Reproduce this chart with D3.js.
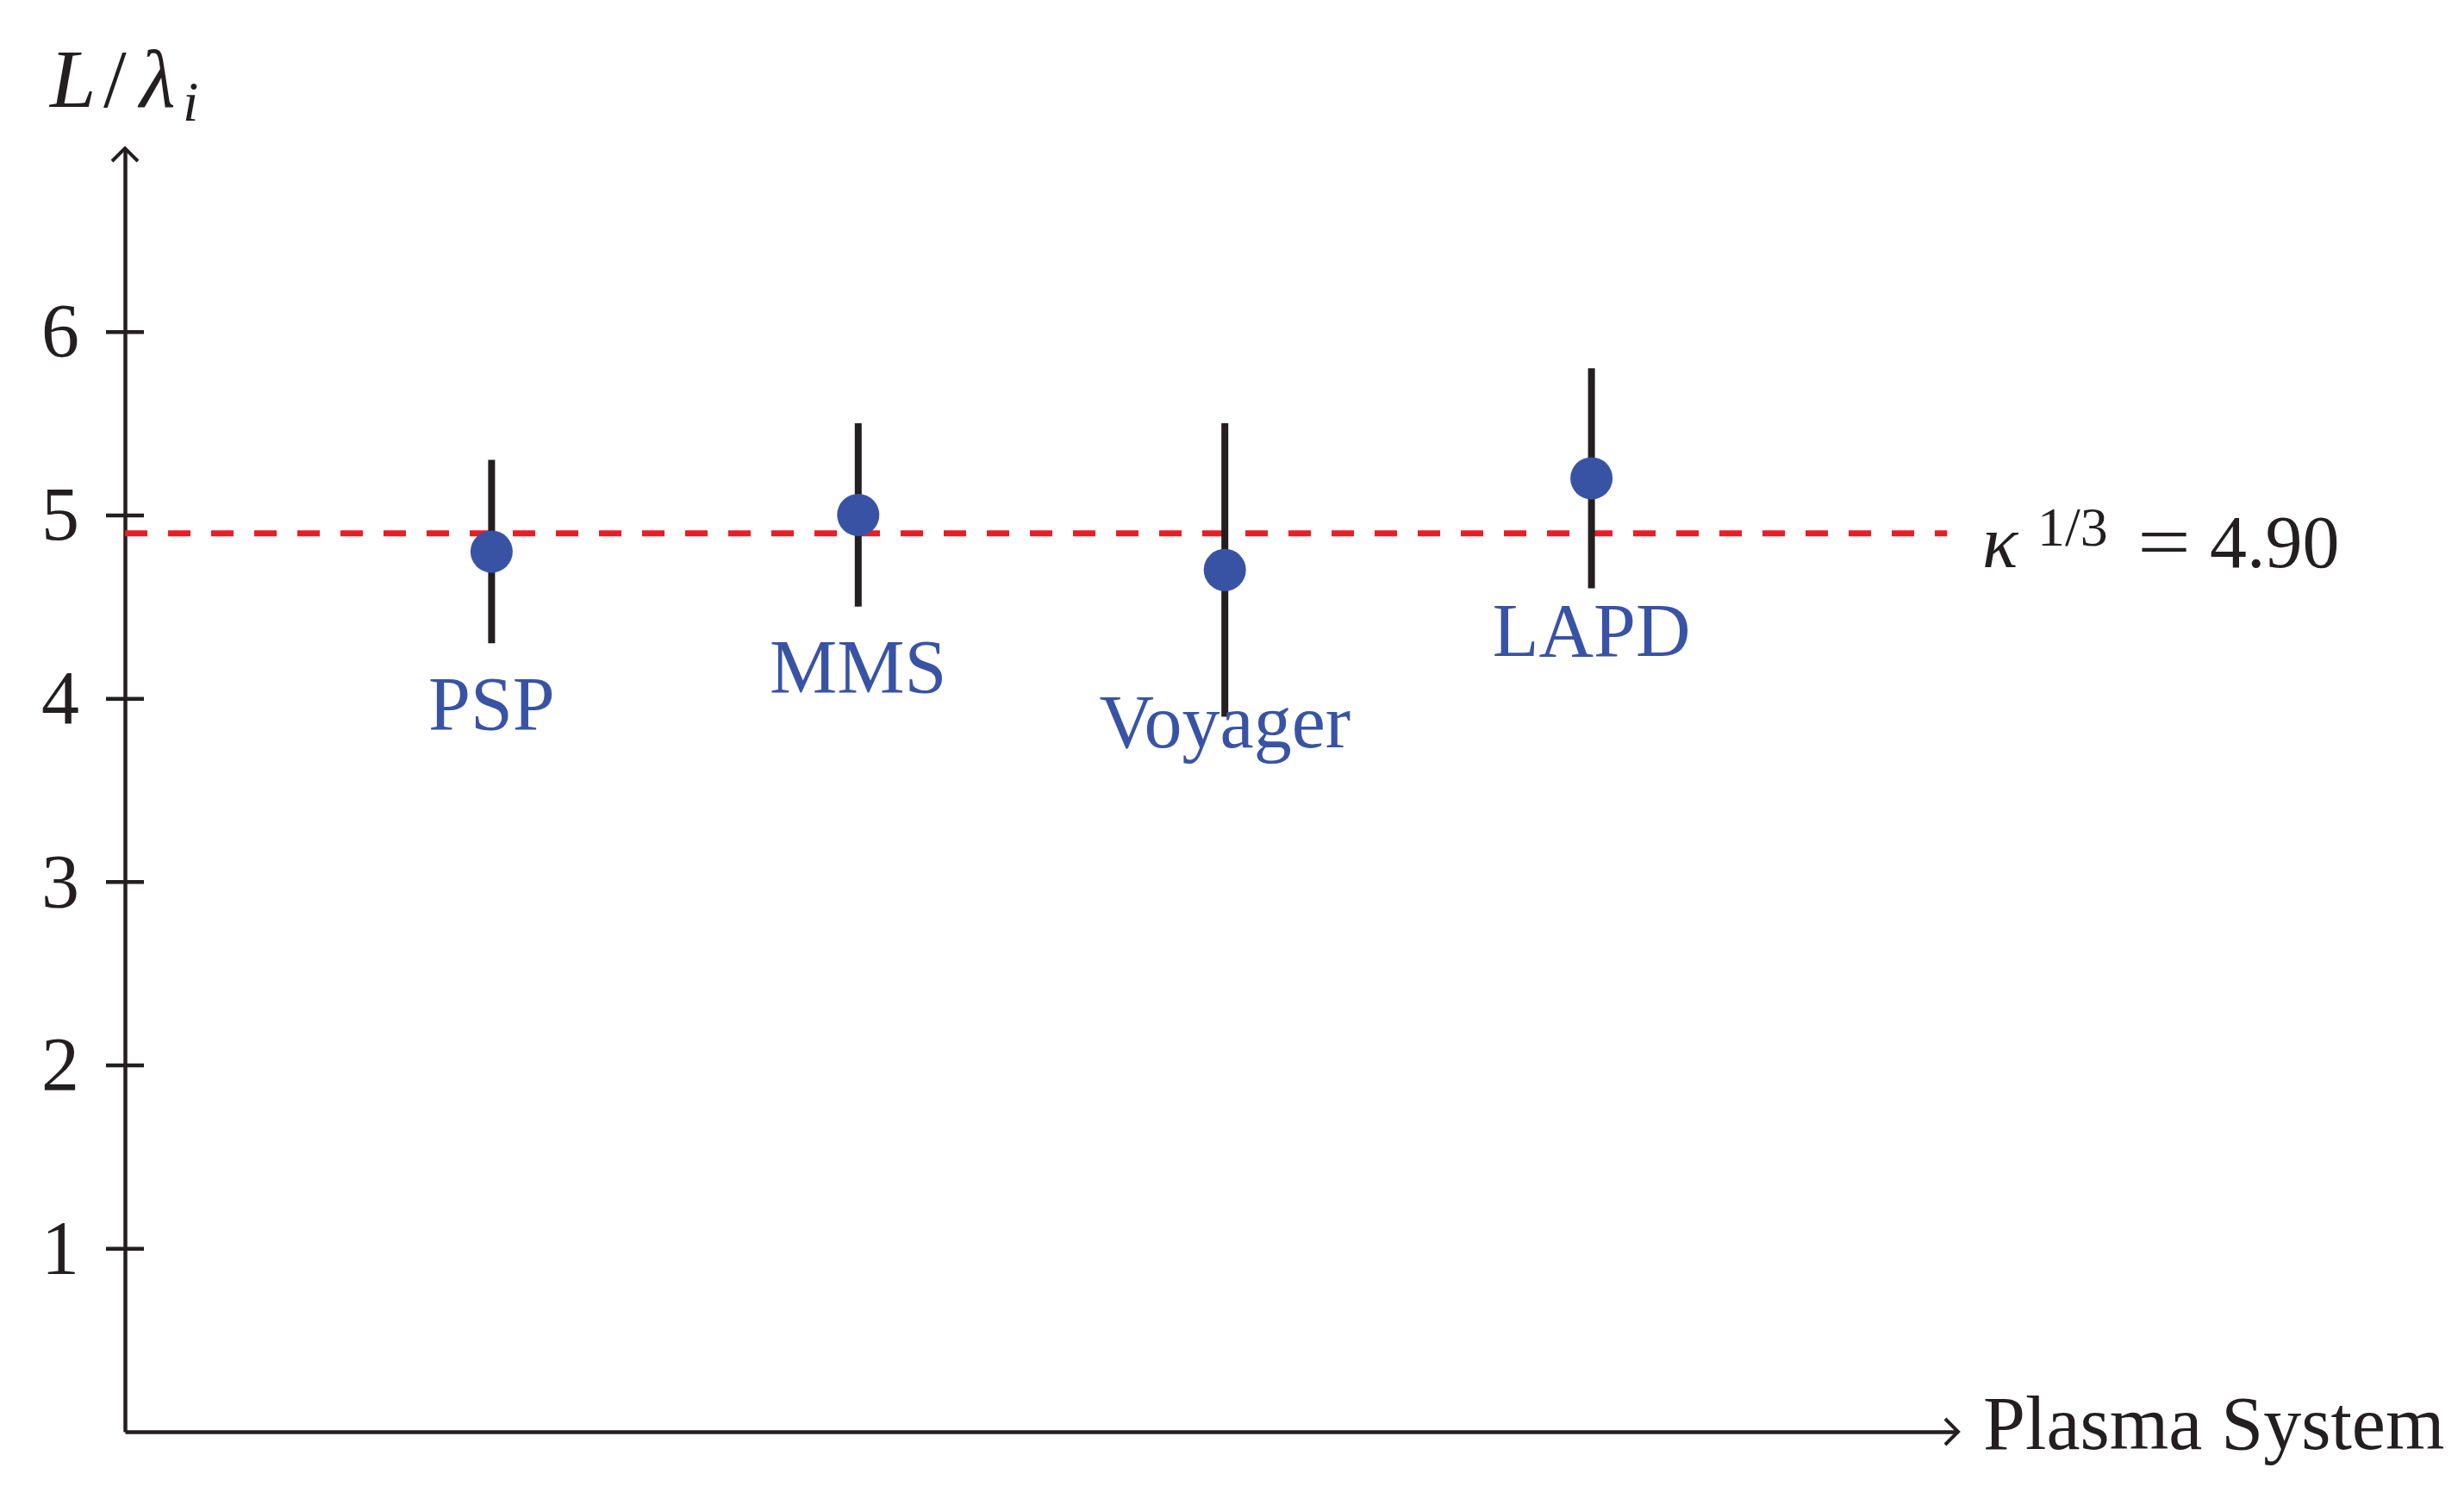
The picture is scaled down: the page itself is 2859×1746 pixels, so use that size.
<!DOCTYPE html>
<html lang="en">
<head>
    <meta charset="utf-8">
    <title>L / lambda_i by plasma system</title>
    <script src="https://cdn.jsdelivr.net/npm/d3@7/dist/d3.min.js"></script>
    <style type="text/css">
        body { margin: 0; background: #fff; }
        svg text { font-family: "Liberation Serif", "Times New Roman", serif; fill: #231f20; }
    </style>
</head>
<body>
    <svg width="2859" height="1746"></svg>
    <script>

        // data
        var systems  = ["PSP", "MMS", "Voyager", "LAPD"];
        var xPos     = [1, 2, 3, 4];
        var ratio    = [4.8, 5.0, 4.7, 5.2];
        var errLow   = [4.3, 4.5, 3.9, 4.6];
        var errHigh  = [5.3, 5.5, 5.5, 5.8];
        var yTicks   = [1, 2, 3, 4, 5, 6];
        var kappaRef = 4.90;

        var ink = "#231f20", blue = "#3953a4", red = "#ed1c24";

        var svg = d3.select("svg");

        var xScale = d3.scaleLinear().domain([0, 5]).range([145, 2272]),
            yScale = d3.scaleLinear().domain([0, 7]).range([1661, 172]);

        var rows = systems.map(function(s, i) {
            return { name: s, x: xPos[i], v: ratio[i], lo: errLow[i], hi: errHigh[i] };
        });

        // y axis, ticks crossing the line
        var gy = svg.append("g")
            .attr("transform", "translate(" + xScale(0) + ",0)")
            .call(d3.axisLeft(yScale).tickValues(yTicks).tickFormat(d3.format("d"))
                    .tickSizeInner(22).tickSizeOuter(0).tickPadding(31));
        gy.select(".domain").attr("stroke", ink).attr("stroke-width", 4.5);
        gy.selectAll(".tick line").attr("x1", -22).attr("x2", 22).attr("stroke", ink).attr("stroke-width", 4.5);
        gy.selectAll(".tick text").attr("font-size", 88).attr("fill", ink)
          .attr("font-family", "Liberation Serif, serif");

        // x axis, no ticks
        var gx = svg.append("g")
            .attr("transform", "translate(0," + yScale(0) + ")")
            .call(d3.axisBottom(xScale).tickValues([]).tickSizeOuter(0));
        gx.select(".domain").attr("stroke", ink).attr("stroke-width", 4.5);

        // arrow heads
        var tipY = yScale(7), ax = xScale(0);
        svg.append("path")
            .attr("d", "M" + (ax - 15) + "," + (tipY + 15) + " Q" + (ax - 6) + "," + (tipY + 6) + " " + ax + "," + tipY +
                       " Q" + (ax + 6) + "," + (tipY + 6) + " " + (ax + 15) + "," + (tipY + 15))
            .attr("fill", "none").attr("stroke", ink).attr("stroke-width", 4);
        var tipX = xScale(5), ay = yScale(0);
        svg.append("path")
            .attr("d", "M" + (tipX - 15) + "," + (ay - 15) + " Q" + (tipX - 6) + "," + (ay - 6) + " " + tipX + "," + ay +
                       " Q" + (tipX - 6) + "," + (ay + 6) + " " + (tipX - 15) + "," + (ay + 15))
            .attr("fill", "none").attr("stroke", ink).attr("stroke-width", 4);

        // reference line
        svg.append("line")
            .attr("x1", xScale(0)).attr("x2", xScale(4.97))
            .attr("y1", yScale(kappaRef)).attr("y2", yScale(kappaRef))
            .attr("stroke", red).attr("stroke-width", 7).attr("stroke-dasharray", "26,24");

        // error bars
        svg.selectAll(".err").data(rows).enter().append("line")
            .attr("class", "err")
            .attr("x1", function(d) { return xScale(d.x); })
            .attr("x2", function(d) { return xScale(d.x); })
            .attr("y1", function(d) { return yScale(d.lo); })
            .attr("y2", function(d) { return yScale(d.hi); })
            .attr("stroke", ink).attr("stroke-width", 8);

        // points
        svg.selectAll(".pt").data(rows).enter().append("circle")
            .attr("class", "pt")
            .attr("cx", function(d) { return xScale(d.x); })
            .attr("cy", function(d) { return yScale(d.v); })
            .attr("r", 24.5)
            .attr("fill", blue);

        // system names under each point
        svg.selectAll(".lbl").data(rows).enter().append("text")
            .attr("class", "lbl")
            .attr("x", function(d) { return xScale(d.x); })
            .attr("y", function(d) { return yScale(d.v) + 206; })
            .attr("text-anchor", "middle")
            .attr("font-size", 88)
            .style("fill", blue)
            .text(function(d) { return d.name; });

        // y label  L / lambda_i
        var yl = svg.append("text").attr("x", 58).attr("y", 124).attr("font-size", 96);
        yl.append("tspan").attr("font-style", "italic").text("L");
        yl.append("tspan").attr("x", 120).text("/");
        yl.append("tspan").attr("x", 162).attr("font-style", "italic").text("λ");
        yl.append("tspan").attr("x", 212).attr("dy", 16).attr("font-size", 66).attr("font-style", "italic").text("i");

        // kappa label
        var ky = yScale(kappaRef) + 39;
        var kl = svg.append("text").attr("y", ky).attr("font-size", 86);
        kl.append("tspan").attr("x", 2300).attr("font-style", "italic").text("κ");
        kl.append("tspan").attr("x", 2364).attr("y", ky - 25).attr("font-size", 64).text("1/3");
        kl.append("tspan").attr("x", 2480).attr("y", ky)
          .attr("textLength", 62).attr("lengthAdjust", "spacingAndGlyphs").text("=");
        kl.append("tspan").attr("x", 2564).attr("y", ky).text(kappaRef.toFixed(2));

        // x label
        svg.append("text").attr("x", 2301).attr("y", 1681).attr("font-size", 88).text("Plasma System");

    </script>
</body>
</html>
